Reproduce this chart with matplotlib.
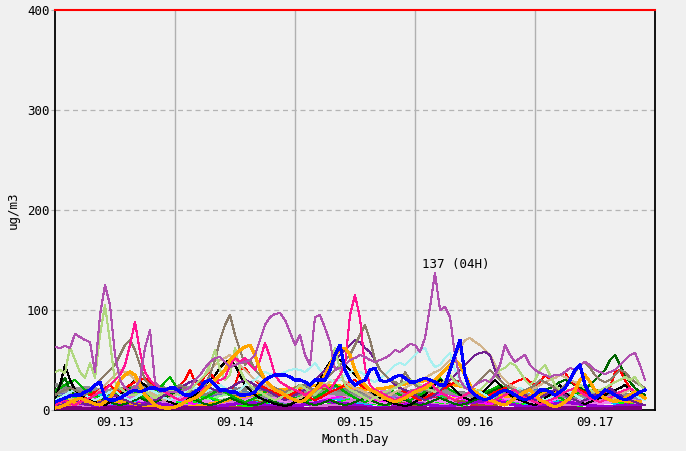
import numpy as np
import matplotlib
matplotlib.use("Agg")
import matplotlib.pyplot as plt

# ---------------- data ----------------
days = ["09.13", "09.14", "09.15", "09.16", "09.17"]
y_ticks = [0, 100, 200, 300, 400]

# hourly series (hour 0 = 09.13 00H)
orchid = [63,62,64,62,76,73,70,68,38,95,
          125,105,55,30,22,20,22,30,62,80,
          28,22,20,18,18,18,20,22,30,35,
          42,48,52,53,48,43,45,47,48,50,
          55,70,85,93,96,97,90,78,65,75,
          55,45,93,95,82,68,40,42,45,50,
          52,55,53,50,48,50,52,55,60,58,
          62,66,65,58,72,103,137,100,103,93,
          55,30,22,20,25,28,30,28,35,45,
          65,55,48,52,55,45,40,37,35,33,
          35,35,38,42,40,45,48,45,40,38,
          36,38,40,45,50,55,57,45,30]
lightgreen = [38,40,37,63,50,38,32,47,32,75,105,68,28,
              22,18,15,15,18,20,15,12,15,18,20,
              18,15,15,20,25,30,35,45,60,40,30,35,
              62,40,30,25,20,18,15,12,10,12,15,18,
              20,25,22,18,15,20,30,45,62,40,25,20,
              18,15,12,10,12,15,18,20,22,25,28,30,
              28,25,22,20,18,22,30,35,28,25,22,20,
              18,20,25,30,35,40,42,47,45,38,30,25,
              30,40,45,35,25,20,18,20,22,25,22,20,
              18,20,22,25,28,30,33,30,33,25,20]
pink = [5,8,10,6,5,8,10,12,15,18,
        20,25,30,35,45,65,88,58,38,30,
        25,20,18,15,12,10,12,15,18,20,
        22,25,28,30,32,45,52,48,52,45,
        40,50,67,53,35,28,25,22,20,18,
        15,18,20,22,25,20,28,35,45,95,
        115,92,42,25,20,18,15,12,10,12,
        15,18,20,22,25,28,22,18,15,12,
        10,12,15,18,15,12,10,8,10,12,
        15,18,20,15,12,10,8,6,8,10,
        12,15,18,20,22,18,15,12,10,8,
        10,12,15,18,20,22,18,15,12]
blue = [8,10,12,14,15,15,18,20,25,28,
        12,10,10,12,15,18,20,18,20,22,
        22,20,20,22,22,18,15,15,18,22,
        28,30,25,20,20,18,18,15,15,16,
        18,25,30,33,35,35,35,33,30,30,
        28,25,30,30,30,40,55,65,40,30,
        25,28,30,40,42,30,28,30,33,35,
        32,28,28,30,32,30,28,25,25,40,
        55,70,35,20,15,12,10,12,15,18,
        20,18,15,12,10,12,15,20,20,18,
        15,18,22,30,40,45,25,15,12,15,
        20,18,15,12,10,12,15,18,20]
cyan = [10,12,15,18,20,18,15,12,10,12,
        15,18,20,15,12,10,12,15,18,20,
        18,15,12,10,12,15,18,20,22,20,
        18,20,22,25,22,20,18,20,25,28,
        30,35,38,36,35,36,38,40,41,40,
        38,42,47,40,35,30,28,30,35,38,
        40,38,35,30,28,32,35,40,45,47,
        45,50,55,60,62,50,43,45,52,57,
        40,30,25,22,20,18,15,12,10,12,
        15,18,20,22,20,18,15,12,10,12,
        15,18,20,18,15,12,10,12,15,18,
        20,18,15,12,10,12,15,12,10]
brown = [15,18,20,22,20,18,15,20,25,30,
         35,40,45,55,65,70,60,45,30,25,
         22,20,18,20,22,25,22,20,18,20,
         25,35,50,70,85,95,75,60,45,50,
         40,35,30,25,22,20,18,20,22,25,
         25,22,20,25,30,35,40,45,50,55,
         65,75,85,70,50,40,35,30,28,25,
         38,30,25,22,20,18,20,25,30,35,
         30,25,22,20,25,30,35,40,35,30,
         25,22,20,18,20,22,25,30,28,25,
         22,20,25,30,38,45,48,42,35,30,
         28,30,35,40,38,32,28,25,22]
tan = [10,12,15,12,10,8,10,12,15,20,
       25,30,35,40,38,35,30,25,20,18,
       15,12,10,12,15,18,20,22,25,30,
       35,40,45,50,52,55,50,45,40,35,
       30,28,25,22,20,18,15,12,10,12,
       15,18,20,22,25,28,30,32,28,25,
       22,20,18,15,12,10,12,15,18,20,
       22,25,28,30,32,35,38,40,45,50,
       55,62,70,72,68,65,60,55,45,35,
       30,25,22,20,18,20,22,25,28,30,
       32,35,33,30,28,25,22,20,18,15,
       12,10,12,15,18,20,18,15,12]
darkpurple = [5,5,6,8,10,8,6,5,5,8,
              10,12,15,12,10,8,6,5,5,8,
              10,12,15,18,20,22,25,28,30,28,
              25,22,20,18,20,22,25,28,30,28,
              25,22,20,18,15,12,10,12,15,18,
              20,25,30,35,40,45,50,55,60,65,
              70,68,62,58,50,40,35,30,25,22,
              20,18,15,12,10,12,15,20,25,30,
              35,40,45,50,55,57,58,55,40,30,
              25,22,20,18,15,12,10,12,15,18,
              20,18,15,12,10,8,10,12,15,18,
              20,22,18,15,12,10,8,6,5]
red = [10,12,15,12,10,8,12,15,18,20,
       22,25,20,18,22,25,28,30,32,28,
       25,22,20,18,22,25,30,40,28,25,
       35,38,30,25,22,20,25,40,42,35,
       30,25,22,20,18,15,12,15,18,20,
       15,12,10,12,15,18,20,22,25,28,
       30,25,22,20,18,15,12,15,18,20,
       18,15,12,10,12,15,18,20,22,25,
       28,30,25,20,18,15,12,15,18,20,
       22,25,28,30,32,28,25,28,35,30,
       32,35,37,30,25,20,18,15,12,15,
       18,22,38,40,30,22,18,15,12]
orange = [2,3,5,8,10,12,10,8,6,5,
          8,12,20,30,35,38,35,25,15,10,
          5,3,2,2,3,5,8,10,12,15,
          20,25,30,35,40,50,55,60,63,65,
          55,40,30,25,20,18,15,12,10,8,
          10,15,20,25,35,45,55,60,62,55,
          40,30,25,20,18,15,12,10,8,10,
          12,15,18,20,22,25,30,35,40,45,
          50,45,35,25,18,15,12,10,8,6,
          5,8,12,15,18,20,15,10,8,5,
          3,5,8,12,20,30,35,28,20,15,
          12,10,8,10,12,15,18,15,12]
black = [10,25,45,30,20,15,12,10,8,6,
         5,8,10,15,20,25,30,28,25,20,
         15,12,10,8,6,5,8,12,15,20,
         25,30,35,42,48,50,45,35,25,20,
         15,12,10,8,6,5,4,5,8,10,
         12,15,20,30,40,48,52,50,45,40,
         35,30,25,20,15,12,10,8,6,5,
         4,5,8,12,15,20,25,30,28,25,
         20,15,12,10,12,15,20,25,30,25,
         20,15,12,10,8,6,5,8,12,15,
         20,25,18,12,10,8,6,8,10,12,
         15,18,20,22,25,20,15,12,10]
darkgreen = [15,25,32,20,15,12,10,8,10,12,
             10,8,6,5,6,8,10,12,10,8,
             8,10,12,15,18,20,15,12,10,8,
             6,5,6,8,10,12,10,8,6,5,
             5,6,8,10,8,6,5,6,8,10,
             8,6,5,6,8,10,8,6,5,6,
             8,10,12,10,8,6,5,6,8,10,
             10,8,6,5,6,8,10,12,10,8,
             6,5,6,8,10,12,15,18,20,22,
             20,18,15,12,10,12,15,18,20,22,
             25,28,30,28,25,22,20,25,30,35,
             40,50,55,45,35,28,22,18,15]
green = [20,22,25,28,30,25,20,18,15,12,
         10,12,15,18,20,22,18,15,12,15,
         18,22,28,33,25,20,18,15,12,10,
         12,15,18,20,18,15,12,10,8,10,
         12,15,18,20,22,20,18,15,12,10,
         8,10,12,15,18,22,25,22,18,15,
         12,10,8,10,12,15,18,20,18,15,
         12,10,12,15,18,22,28,32,25,20,
         18,15,12,10,12,15,18,20,22,25,
         22,18,15,12,10,12,15,18,20,18,
         15,12,10,12,15,18,22,25,20,15,
         12,10,12,15,18,20,18,15,12]

# 3-hourly background series
bg_gray = [18,20,22,20,18,16,15,17,20,22,20,18,17,15,14,16,18,20,18,16,15,14,15,17,19,20,18,16,14,13,15,17,18,16,15,14,15,16,14,13]
bg_violet = [5,8,10,6,12,15,8,5,10,14,9,6,8,12,15,10,7,9,13,16,12,8,6,10,14,11,8,12,15,18,12,9,7,10,13,9,6,8,11,8]
bg_magenta = [3,6,9,12,8,5,10,15,12,7,4,8,12,16,20,14,9,6,10,14,18,12,8,5,9,13,17,12,8,6,10,15,12,8,5,9,12,16,10,7]
bg_lime = [2,5,8,4,10,6,3,12,8,5,14,9,6,3,7,11,16,10,5,8,12,7,4,9,14,10,6,3,8,12,9,5,11,15,8,4,7,10,6,3]
bg_darkviolet = [10,8,6,4,3,5,7,6,4,3,2,4,6,8,5,3,4,6,9,7,5,3,2,4,7,5,3,6,8,10,7,4,3,5,8,6,4,3,5,4]
bg_olive = [12,14,16,18,15,12,10,13,16,19,22,18,14,11,9,12,15,18,21,17,13,10,12,15,18,14,11,9,12,16,19,15,12,10,13,17,20,16,12,10]
bg_teal = [8,10,12,15,12,9,7,10,13,16,12,9,11,14,17,13,10,8,11,15,18,14,10,8,12,16,13,10,7,9,13,16,12,9,8,11,14,12,9,7]
bg_steel = [15,12,10,13,17,20,16,12,9,11,14,18,22,17,13,10,12,16,20,24,18,14,11,9,12,15,19,16,12,10,13,17,21,18,14,11,13,16,14,11]
bg_hotpink = [6,9,12,10,7,5,8,11,15,12,9,6,10,14,18,13,9,7,11,16,20,15,10,8,12,17,22,16,11,8,10,14,18,13,9,7,10,13,11,8]
bg_khaki = [20,17,14,12,15,18,21,18,14,11,13,17,20,16,12,10,14,18,22,19,15,12,10,13,17,21,18,14,11,13,16,20,17,13,11,14,18,15,12,10]
bg_mpurple = [4,6,8,11,9,7,5,8,12,10,7,5,9,13,11,8,6,10,14,12,9,7,11,15,13,10,8,6,9,12,10,7,9,13,16,12,9,11,14,10]
bg_sienna = [3,5,7,9,6,4,2,5,8,11,8,5,3,6,9,12,9,6,4,7,10,13,10,7,5,8,11,9,6,4,7,10,8,5,3,6,9,7,5,3]
bg_lgreen = [12,10,8,6,9,12,15,11,8,6,10,14,17,13,9,7,11,15,19,14,10,8,12,16,13,9,7,10,14,18,13,9,8,12,16,12,9,11,13,10]
bg_purple = [2,2,1,1,2,2,1,1,1,2,2,1,1,1,2,2,1,1,1,2,2,1,1,2,2,1,1,1,2,2,1,1,1,2,2,1,1,1,2,2]
bg_orange = [4,6,8,10,9,7,4,2,2,3,5,8,12,15,18,20,22,24,25,24,22,20,22,25,28,30,27,24,20,17,14,12,15,18,20,17,14,11,9,8]
bg_dimgray = [25,22,20,18,20,22,24,22,20,18,16,18,20,22,20,18,16,15,17,19,18,16,15,17,19,21,19,17,15,14,16,18,17,15,14,13,15,17,15,14]
bg_gold = [8,11,14,10,7,5,9,13,17,12,8,6,10,15,19,14,9,7,11,16,21,15,11,8,12,17,14,10,7,9,13,17,13,9,6,10,14,11,8,6]
bg_crimson = [5,7,10,8,5,3,6,9,12,9,6,4,7,11,14,10,7,5,8,12,15,11,8,6,9,13,10,7,5,8,11,14,10,7,5,8,12,9,6,4]
bg_cyan = [10,8,12,15,11,8,6,9,13,10,7,5,8,12,16,12,8,6,10,14,11,8,6,9,13,17,13,9,7,10,14,11,8,6,9,12,15,11,8,6]
bg_dseagreen = [14,16,18,15,12,10,13,16,19,16,13,10,12,15,18,14,11,9,12,15,18,15,12,10,13,16,19,15,12,9,11,14,17,14,11,9,12,15,12,10]
bg_orchid = [6,4,3,5,8,12,15,10,6,4,3,5,9,14,18,13,8,5,4,6,10,15,19,14,9,6,4,5,8,12,16,12,8,5,4,6,9,13,10,7]
bg_slate = [18,15,12,10,13,16,19,15,11,9,12,15,18,14,10,8,11,14,17,13,10,8,11,14,18,15,11,9,12,16,13,10,8,11,15,19,14,11,9,12]
bg_lgreen2 = [9,12,15,11,8,6,10,14,18,13,9,7,11,15,12,9,6,9,13,17,12,8,6,10,14,18,13,9,7,10,13,10,7,5,8,11,15,11,8,6]
bg_sky = [4,6,9,7,5,8,11,14,10,7,5,8,12,9,6,4,7,10,13,10,7,5,8,11,14,11,8,6,9,12,9,6,4,7,10,13,10,7,5,4]

# ---------------- figure ----------------
BG = "#f0f0f0"
FONT = "DejaVu Sans Mono"
plt.rcParams["font.family"] = FONT
plt.rcParams["font.size"] = 9

fig = plt.figure(figsize=(6.86, 4.51), dpi=100, facecolor=BG)
ax = fig.add_axes([55 / 686, 41 / 451, 600 / 686, 400 / 451], facecolor=BG)

x_h = np.arange(len(orchid))
x_3 = np.arange(0, 120, 3)

bg_series = [
    (bg_khaki, "#bdb76b", 0.8), (bg_dseagreen, "#8fbc8f", 0.8), (bg_slate, "#6a5acd", 0.8),
    (bg_steel, "#4682b4", 0.8), (bg_olive, "#808000", 0.8), (bg_teal, "#008080", 0.8),
    (bg_lgreen, "#90ee90", 0.8), (bg_gold, "#ffd700", 0.8), (bg_cyan, "#00e0e0", 0.8),
    (bg_lgreen2, "#32cd32", 0.8), (bg_hotpink, "#ff69b4", 0.8), (bg_crimson, "#dc143c", 0.8),
    (bg_sienna, "#a0522d", 0.8), (bg_sky, "#00bfff", 0.8), (bg_mpurple, "#9370db", 0.8),
    (bg_lime, "#00ff00", 0.8), (bg_magenta, "#ff00ff", 0.8), (bg_violet, "#ee82ee", 1.6),
    (bg_orchid, "#da70d6", 1.6), (bg_darkviolet, "#9400d3", 1.6), (bg_dimgray, "#808080", 2.2),
    (bg_gray, "#909090", 2.2), (bg_orange, "#ffa500", 1.6), (bg_purple, "#800080", 2.5),
]
for vals, col, lw in bg_series:
    ax.plot(x_3, vals, color=col, lw=lw, zorder=3, antialiased=False)

main_series = [
    (green, "#00b000", 0.8), (darkgreen, "#006400", 0.8), (black, "#000000", 0.8),
    (red, "#ff0000", 0.8), (tan, "#d2b48c", 0.8), (cyan, "#a8f0f0", 0.8),
    (darkpurple, "#702090", 0.8), (brown, "#8b7b68", 0.8), (lightgreen, "#b0d880", 0.8),
    (pink, "#ff1493", 0.8), (orange, "#ffa500", 1.5), (orchid, "#b050b0", 0.8),
    (blue, "#0000ff", 1.5),
]
for vals, col, lw in main_series:
    ax.plot(x_h, vals, color=col, lw=lw, zorder=4, antialiased=False)

# annotation of the maximum
imax = int(np.argmax(orchid))
vmax = orchid[imax]
ax.text(imax - 2.6, vmax + 2, f"{vmax} ({imax % 24:02d}H)", ha="left", va="bottom",
        fontsize=9, family=FONT, zorder=6)

# grid
for d in range(1, len(days)):
    ax.axvline(24 * d, color="#b0b0b0", lw=1.0, zorder=1)
for yv in y_ticks[1:-1]:
    ax.axhline(yv, color="#b4b4b4", lw=0.9, dashes=(4, 3), zorder=1)

ax.set_xlim(0, 120)
ax.set_ylim(0, 400)
ax.set_xticks([24 * i + 12 for i in range(len(days))])
ax.set_xticklabels(days)
ax.set_yticks(y_ticks)
ax.set_yticklabels([str(v) for v in y_ticks])
ax.tick_params(axis="x", length=0, pad=4, labelsize=9)
ax.tick_params(axis="y", length=3, width=0.8, color="#b0b0b0", pad=1, labelsize=9)

for s in ["left", "bottom", "right"]:
    ax.spines[s].set_color("black")
    ax.spines[s].set_linewidth(1.3)
ax.spines["top"].set_color("red")
ax.spines["top"].set_linewidth(1.5)

ax.set_xlabel("Month.Day", fontsize=9, labelpad=3)
ax.set_ylabel("ug/m3", fontsize=9, labelpad=5)

fig.savefig("out.png", dpi=100, facecolor=BG)
